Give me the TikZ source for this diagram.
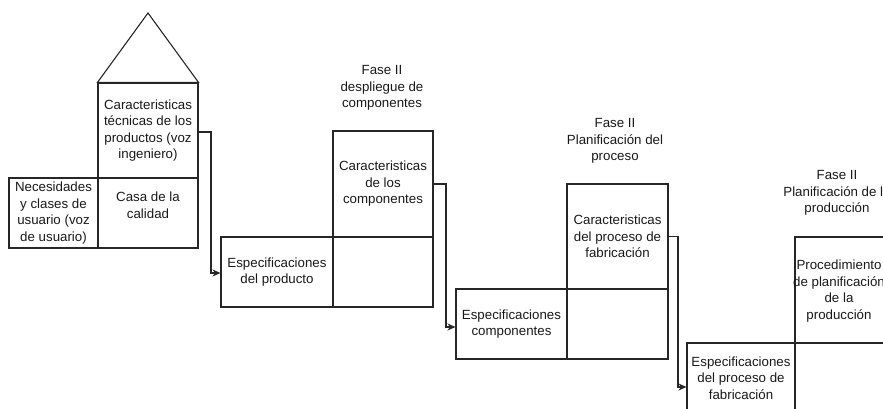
\documentclass[tikz,border=0pt]{standalone}
\usepackage{fontspec}
\setmainfont{Liberation Sans}
\usetikzlibrary{arrows.meta}
\begin{document}
\begin{tikzpicture}[x=1pt,y=-1pt,
  cell/.style={draw=black!85, line width=1.1pt, inner sep=0pt, align=center,
    font=\fontsize{13.3}{16.5}\selectfont, text=black!90},
  txt/.style={inner sep=0pt, align=center, font=\fontsize{13.3}{16.5}\selectfont, text=black!90},
  conn/.style={draw=black!85, line width=1.1pt, -{Stealth[length=8pt,width=7pt]}},
  roofline/.style={draw=black!85, line width=1.1pt, line join=miter}]
\useasboundingbox (0,0) rectangle (883,409);
\clip (0,0) rectangle (883,409);
% Block 1
\node[cell, minimum width=100pt, minimum height=95pt] (t1) at (148,130.5)
  {Caracteristicas\\técnicas de los\\productos (voz\\ingeniero)};
\node[cell, minimum width=89pt, minimum height=70pt] (n1) at (53.5,213)
  {Necesidades\\y clases de\\usuario (voz\\de usuario)};
\node[cell, minimum width=100pt, minimum height=70pt] (c1) at (148,213) {};
\node[txt] (c1t) at (148,205) {Casa de la\\calidad};
\coordinate (apex) at (148,13);
\draw[roofline] (t1.north west) -- (apex) -- (t1.north east) -- cycle;
% Block 2
\node[cell, minimum width=100pt, minimum height=106pt] (t2) at (383,184)
  {Caracteristicas\\de los\\componentes};
\node[cell, minimum width=112pt, minimum height=70pt] (e2) at (277,272)
  {Especificaciones\\del producto};
\node[cell, minimum width=100pt, minimum height=70pt] (b2) at (383,272) {};
\node[txt] (f2) at (382,88) {Fase II\\despliegue de\\componentes};
% Block 3
\node[cell, minimum width=101pt, minimum height=105pt] (t3) at (617.5,236.5)
  {Caracteristicas\\del proceso de\\fabricación};
\node[cell, minimum width=111pt, minimum height=70pt] (e3) at (511.5,324)
  {Especificaciones\\componentes};
\node[cell, minimum width=101pt, minimum height=70pt] (b3) at (617.5,324) {};
\node[txt] (f3) at (615,141) {Fase II\\Planificación del\\proceso};
% Block 4
\node[cell, minimum width=100pt, minimum height=106pt] (t4) at (845,290) {};
\node[txt] (t4t) at (839,291) {Procedimiento\\de planificación\\de la\\producción};
\node[cell, minimum width=108pt, minimum height=70pt] (e4) at (741,378)
  {Especificaciones\\del proceso de\\fabricación};
\node[cell, minimum width=100pt, minimum height=70pt] (b4) at (845,378) {};
\node[txt] (f4) at (837,193) {Fase II\\Planificación de la\\producción};
% Connectors
\draw[conn] (t1.east |- 0,132) -| (211,273) -- (e2.west |- 0,273);
\draw[conn] (t2.east) -| (446,327) -- (e3.west |- 0,327);
\draw[conn] (t3.east) -| (678,387) -- (e4.west |- 0,387);
\end{tikzpicture}
\end{document}
